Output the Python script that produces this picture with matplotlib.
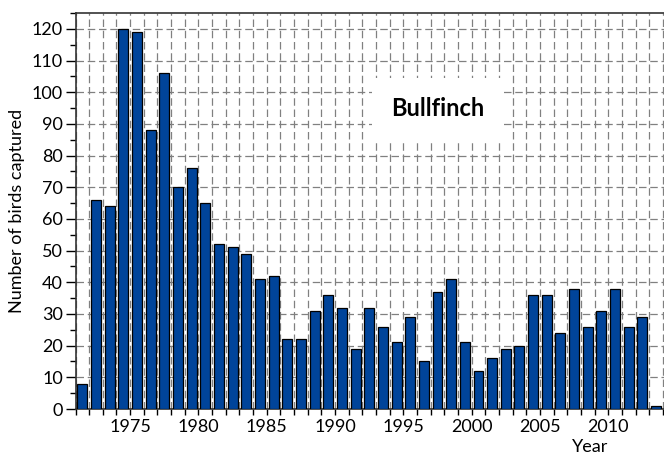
import numpy as np
import matplotlib.pyplot as plt
from matplotlib.ticker import MultipleLocator

years = np.arange(1972, 2015)
birds = [8, 66, 64, 120, 119, 88, 106, 70, 76, 65,
         52, 51, 49, 41, 42, 22, 22, 31, 36, 32,
         19, 32, 26, 21, 29, 15, 37, 41, 21, 12,
         16, 19, 20, 36, 36, 24, 38, 26, 31, 38,
         26, 29, 1]
title = "Bullfinch"

plt.rcParams['font.family'] = ['Lato', 'DejaVu Sans']

fig = plt.figure(figsize=(6.64, 4.58), dpi=100)
ax = fig.add_axes([75.5 / 664, 49 / 458, (664 - 75.5) / 664, (409 - 13) / 458])

# each bar sits in the slot ending at its year tick
ax.bar(years - 0.5, birds, width=0.73, color='#00449a', edgecolor='black',
       linewidth=0.9, zorder=3)

ax.set_xlim(1971, 2014.08)
ax.set_ylim(0, 125)

ax.xaxis.set_major_locator(MultipleLocator(5))
ax.xaxis.set_minor_locator(MultipleLocator(1))
ax.yaxis.set_major_locator(MultipleLocator(10))
ax.yaxis.set_minor_locator(MultipleLocator(5))
ax.tick_params(axis='y', which='major', length=7, width=1, labelsize=13, pad=2)
ax.tick_params(axis='y', which='minor', length=4, width=1)
ax.tick_params(axis='x', which='both', length=4, width=1, labelsize=13, pad=3)

grid_style = dict(color='#808080', linestyle=(0, (6, 3)), linewidth=0.9, zorder=0)
ax.grid(True, which='major', axis='y', **grid_style)
ax.grid(True, which='both', axis='x', **grid_style)
ax.set_axisbelow(True)

ax.spines['right'].set_visible(False)
for s in ['top', 'left', 'bottom']:
    ax.spines[s].set_linewidth(1.2)
    ax.spines[s].set_color('#333333')

ax.set_ylabel("Number of birds captured", fontsize=13, labelpad=5)
fig.text(590 / 664, 1 - 447 / 458, "Year", fontsize=13, ha='center', va='center')

ax.text(1997.5, 94.7, title, fontsize=17, fontweight='bold', ha='center', va='center',
        bbox=dict(facecolor='white', edgecolor='none', pad=14), zorder=4)

fig.savefig("out.png", dpi=100)
